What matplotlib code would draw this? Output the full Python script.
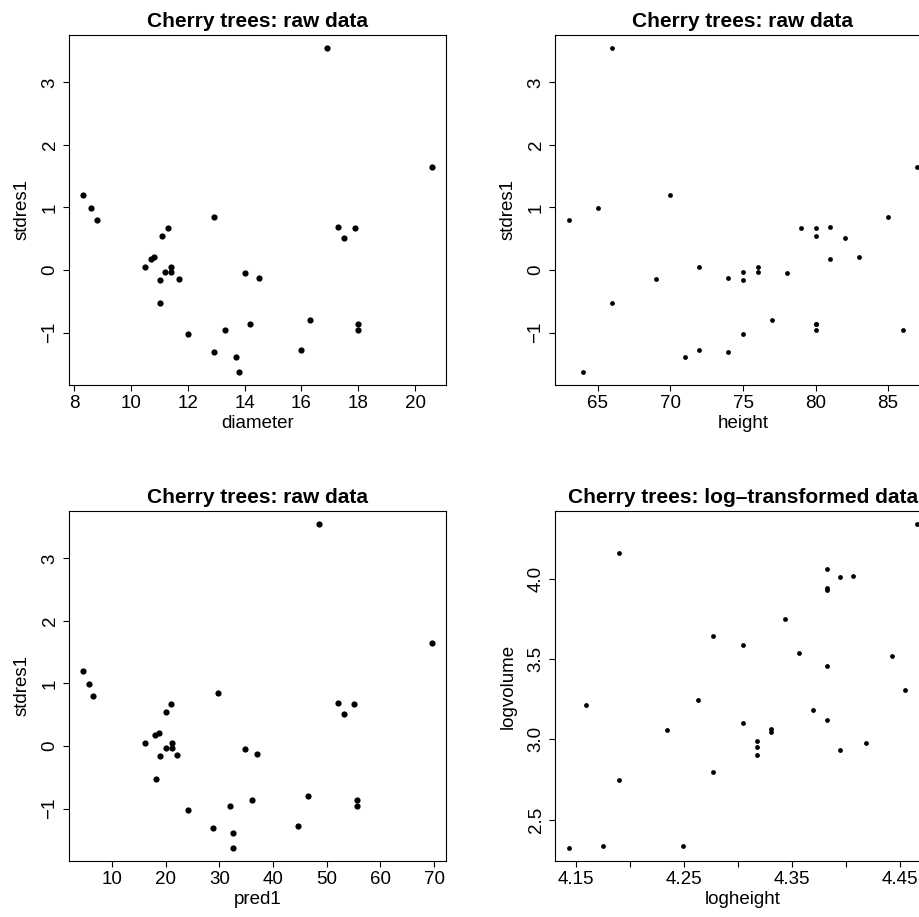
import numpy as np
from matplotlib import pyplot as plt

plt.rcParams['font.family'] = ['Liberation Sans', 'DejaVu Sans']

# cherry trees, one extra (outlying) tree at the end
diameter = [8.3, 8.6, 8.8, 10.5, 10.7, 10.8, 11.0, 11.0, 11.1, 11.2, 11.3, 11.4, 11.4, 11.7, 12.0, 12.9,
            12.9, 13.3, 13.7, 13.8, 14.0, 14.2, 14.5, 16.0, 16.3, 17.3, 17.5, 17.9, 18.0, 18.0, 20.6, 16.9]
height = [70, 65, 63, 72, 81, 83, 66, 75, 80, 75, 79, 76, 76, 69, 75, 74,
          85, 86, 71, 64, 78, 80, 74, 72, 77, 81, 82, 80, 80, 80, 87, 66]
volume = [10.3, 10.3, 10.2, 16.4, 18.8, 19.7, 15.6, 18.2, 22.6, 19.9, 24.2, 21.0, 21.4, 21.3, 19.1, 22.2,
          33.8, 27.4, 25.7, 24.9, 34.5, 31.7, 36.3, 38.3, 42.6, 55.4, 55.7, 58.3, 51.5, 51.0, 77.0, 64.3]
stdres1 = [1.20, 0.99, 0.80, 0.05, 0.17, 0.21, -0.53, -0.16, 0.54, -0.03, 0.67, 0.05, -0.03, -0.15, -1.02, -1.31,
           0.855, -0.955, -1.39, -1.63, -0.05, -0.865, -0.13, -1.28, -0.80, 0.69, 0.52, 0.67, -0.855, -0.96, 1.645, 3.55]
pred1 = [4.58, 5.70, 6.51, 16.16, 18.03, 18.7, 18.15, 18.96, 20.0, 20.0, 20.95, 21.2, 21.2, 22.07, 24.2, 28.73,
         29.8, 31.9, 32.52, 32.46, 34.77, 36.0, 37.0, 44.55, 46.5, 52.0, 53.2, 55.06, 55.56, 55.56, 69.6, 48.6]

W, H = 920, 917
FS = 13.5


def r_axes(px, py, pw, ph):
    # pixel box (from top-left) -> figure fraction
    ax = plt.axes([px / W, 1 - (py + ph) / H, pw / W, ph / H])
    ax.tick_params(direction='out', length=4.5, width=0.8, labelsize=FS, pad=3)
    for s in ax.spines.values():
        s.set_linewidth(0.8)
    ax.margins(0.04)
    return ax


def panel(ax, x, y, xlab, ylab, title, xticks, yticks, ylabels=None, xlabels=None, s=20):
    ax.scatter(x, y, s=s, c='k', linewidths=0)
    ax.set_xticks(xticks)
    if xlabels is not None:
        ax.set_xticklabels(xlabels)
    ax.set_yticks(yticks)
    if ylabels is not None:
        ax.set_yticklabels(ylabels)
    for t in ax.get_yticklabels():
        t.set_rotation(90)
        t.set_va('center')
    ax.set_xlabel(xlab, fontsize=FS, labelpad=2)
    ax.set_ylabel(ylab, fontsize=FS, labelpad=8)
    ax.set_title(title, fontsize=15, fontweight='bold', pad=6)


fig = plt.figure(figsize=(W / 100, H / 100), dpi=100)

ax1 = r_axes(69, 35, 377, 350)
panel(ax1, diameter, stdres1, 'diameter', 'stdres1', 'Cherry trees: raw data',
      [8, 10, 12, 14, 16, 18, 20], [-1, 0, 1, 2, 3], ['\u22121', '0', '1', '2', '3'])

ax2 = r_axes(555, 35, 376, 350)
panel(ax2, height, stdres1, 'height', 'stdres1', 'Cherry trees: raw data',
      [65, 70, 75, 80, 85], [-1, 0, 1, 2, 3], ['\u22121', '0', '1', '2', '3'], s=12)

ax3 = r_axes(69, 511, 377, 350)
panel(ax3, pred1, stdres1, 'pred1', 'stdres1', 'Cherry trees: raw data',
      [10, 20, 30, 40, 50, 60, 70], [-1, 0, 1, 2, 3], ['\u22121', '0', '1', '2', '3'])

ax4 = r_axes(555, 511, 376, 350)
logheight = np.log(height)
logvolume = np.log(volume)
panel(ax4, logheight, logvolume, 'logheight', 'logvolume', 'Cherry trees: log\u2013transformed data',
      [4.15, 4.20, 4.25, 4.30, 4.35, 4.40, 4.45], [2.5, 3.0, 3.5, 4.0], ['2.5', '3.0', '3.5', '4.0'],
      ['4.15', '', '4.25', '', '4.35', '', '4.45'], s=12)

plt.savefig('out.png', dpi=100)
